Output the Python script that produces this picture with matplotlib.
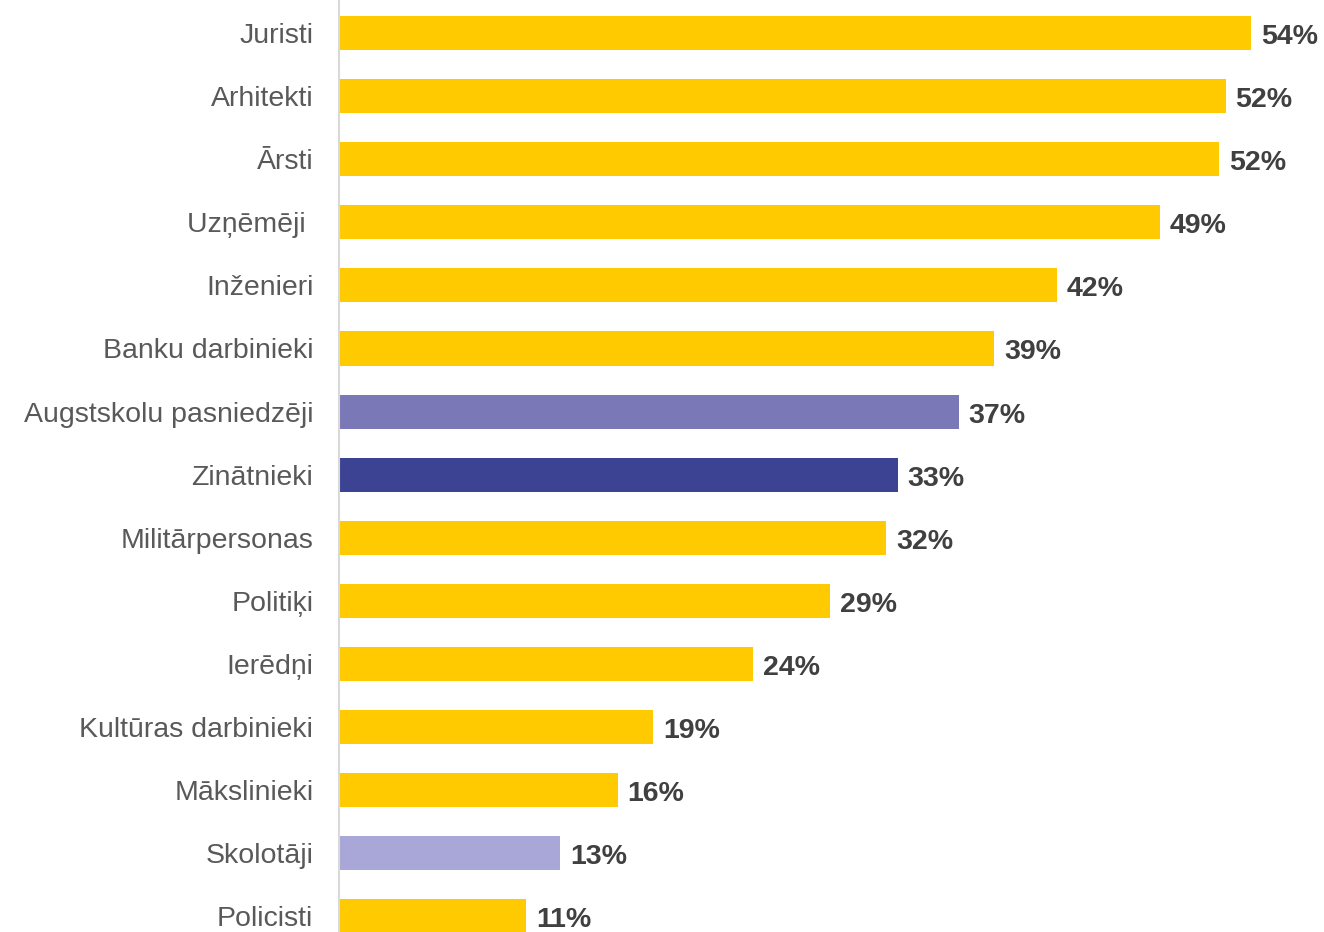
import matplotlib
matplotlib.use("Agg")
import matplotlib.pyplot as plt

categories = ["Juristi", "Arhitekti", "Ārsti", "Uzņēmēji ", "Inženieri", "Banku darbinieki",
              "Augstskolu pasniedzēji", "Zinātnieki", "Militārpersonas", "Politiķi", "Ierēdņi",
              "Kultūras darbinieki", "Mākslinieki", "Skolotāji", "Policisti"]
values = [54.0, 52.5, 52.1, 48.6, 42.5, 38.8, 36.7, 33.1, 32.4, 29.1, 24.5, 18.6, 16.5, 13.1, 11.1]
labels = ["54%", "52%", "52%", "49%", "42%", "39%", "37%", "33%", "32%", "29%", "24%",
          "19%", "16%", "13%", "11%"]

YELLOW = "#FFCA00"
colors = [YELLOW] * len(categories)
colors[6] = "#7B78B8"
colors[7] = "#3C4393"
colors[13] = "#A9A7D7"

plt.rcParams['font.family'] = ['Liberation Sans', 'DejaVu Sans']

W, H = 1324, 932
fig = plt.figure(figsize=(W / 100, H / 100), dpi=100)
ax = fig.add_axes([339 / W, 0, 1 - 339 / W, 1])

y = list(range(len(categories)))
ax.barh(y, values, height=0.54, color=colors)

ax.set_xlim(0, (W - 339) / 16.89)
ax.set_ylim((H - 33) / 63.1, -33 / 63.1)

for yi, v, lab in zip(y, values, labels):
    ax.annotate(lab, (v, yi), xytext=(7, -7.9), textcoords="offset points",
                ha="left", va="baseline", fontsize=20.5, fontweight="bold", color="#404040")

ax.set_yticks(y)
ax.set_yticklabels(categories, fontsize=20.5, color="#595959")
ax.tick_params(axis="y", length=0, pad=18.5)
ax.set_xticks([])
for s in ["top", "right", "bottom"]:
    ax.spines[s].set_visible(False)
ax.spines["left"].set_color("#D9D9D9")
ax.spines["left"].set_linewidth(1.5)

fig.savefig("out.png", dpi=100)
